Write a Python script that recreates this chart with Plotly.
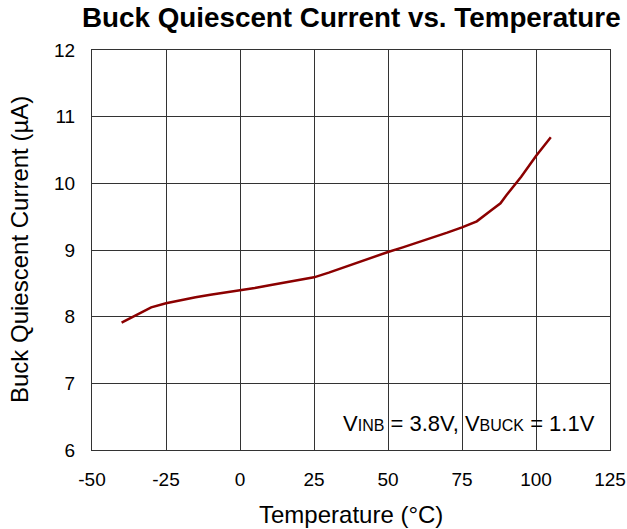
import plotly.graph_objects as go

temperature = [-40, -35, -30, -25, -20, -15, -10, -5, 0, 5, 10, 15, 20, 25, 30, 35, 40, 45, 50,
               55, 60, 65, 70, 75, 80, 85, 88, 90, 95, 100, 105]
current_uA = [7.91, 8.03, 8.14, 8.20, 8.25, 8.29, 8.33, 8.36, 8.39, 8.43, 8.47, 8.51, 8.54, 8.59,
              8.66, 8.74, 8.82, 8.90, 8.97, 9.04, 9.11, 9.19, 9.26, 9.34, 9.43, 9.60, 9.70, 9.82,
              10.10, 10.41, 10.69]

x_ticks = [-50, -25, 0, 25, 50, 75, 100, 125]
x_tick_text = ["-50", "-25", "0", "25", "50", "75", "100", "125"]
y_ticks = [6, 7, 8, 9, 10, 11, 12]

font_family = "Liberation Sans, Arial, sans-serif"

fig = go.Figure()
fig.add_trace(go.Scatter(x=temperature, y=current_uA, mode="lines",
                         line=dict(color="#8B0000", width=2.5), showlegend=False))

axis_common = dict(showgrid=True, gridcolor="#333333", gridwidth=1,
                   showline=True, linecolor="#333333", linewidth=1, mirror=True,
                   ticks="inside", ticklen=4, tickcolor="#333333",
                   tickfont=dict(size=19, color="black", family=font_family),
                   zeroline=False, automargin=False)

fig.update_layout(
    width=627, height=529,
    margin=dict(l=92, r=17, t=50, b=79),
    paper_bgcolor="white", plot_bgcolor="white",
    xaxis=dict(range=[-50, 125], tickvals=x_ticks, ticktext=x_tick_text,
               ticklabelstandoff=12, **axis_common),
    yaxis=dict(range=[6, 12], tickvals=y_ticks, ticklabelstandoff=12, **axis_common),
    annotations=[
        dict(text="<b>Buck Quiescent Current vs. Temperature</b>",
             xref="paper", yref="paper", x=0.5, y=1 + 32 / 400, xanchor="center", yanchor="middle",
             showarrow=False, font=dict(size=27.8, color="black", family=font_family)),
        dict(text="Temperature (°C)",
             xref="paper", yref="paper", x=0.5, y=-64 / 400, xanchor="center", yanchor="middle",
             showarrow=False, font=dict(size=24, color="black", family=font_family)),
        dict(text="Buck Quiescent Current (µA)", textangle=-90,
             xref="paper", yref="paper", x=-73 / 518, y=0.5, xanchor="center", yanchor="middle",
             showarrow=False, font=dict(size=24, color="black", family=font_family)),
        dict(text="V<span style='font-size:16px'>INB</span> = 3.8V, V<span style='font-size:16px'>BUCK</span> = 1.1V",
             xref="paper", yref="paper", x=(597 - 92) / 518, y=(450 - 423) / 400,
             xanchor="right", yanchor="middle",
             showarrow=False, font=dict(size=22, color="black", family=font_family)),
    ],
)

fig.write_html("out.html", config={"displayModeBar": False},
               post_script="document.body.style.margin='0';")
